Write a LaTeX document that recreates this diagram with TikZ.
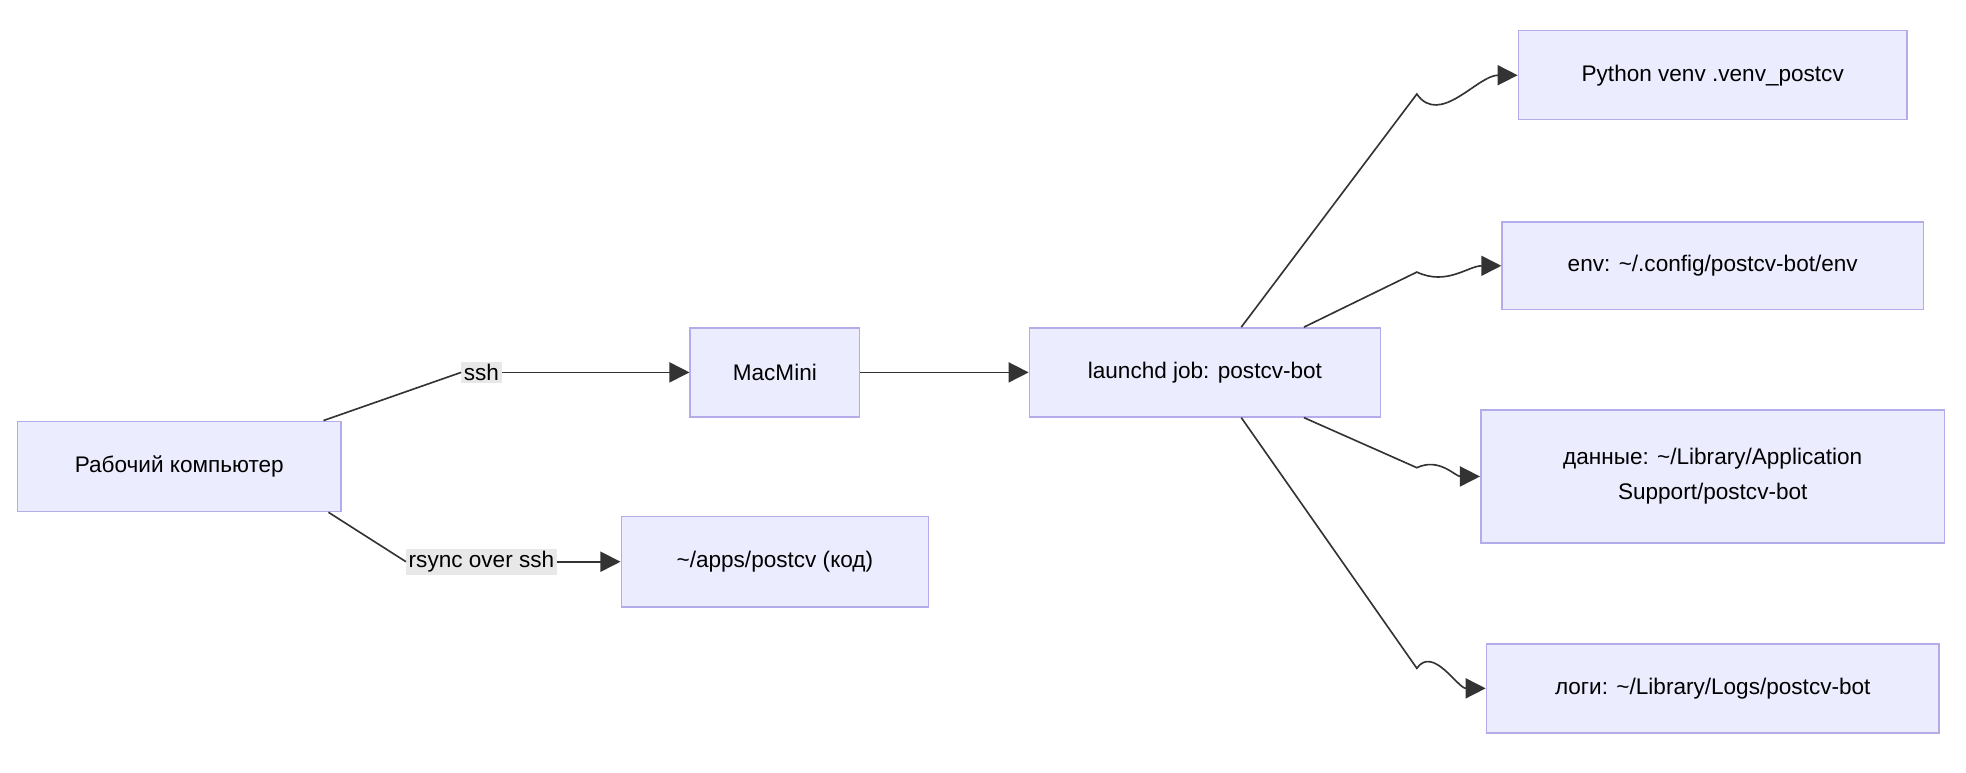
\documentclass[tikz,border=0pt]{standalone}
\usepackage{fontspec}
\setmainfont{Liberation Sans}
\usetikzlibrary{positioning,arrows.meta}
\definecolor{boxfill}{HTML}{ECECFF}
\definecolor{boxline}{HTML}{B3ABEA}
\definecolor{lblfill}{HTML}{E8E8E8}
\begin{document}
\begin{tikzpicture}[x=1pt, y=-1pt,
    box/.style={rectangle, draw=boxline, fill=boxfill, line width=1.2pt, align=center,
        font=\fontsize{18}{28}\selectfont, inner sep=0pt},
    lbl/.style={fill=lblfill, font=\fontsize{18}{22}\selectfont, inner sep=2pt},
    link/.style={-{Triangle[length=16pt,width=16pt]}, draw=black!80, line width=1.3pt}
    ]
        \useasboundingbox (0,0) rectangle (1568,616);
        %Nodes
        \node[box, minimum width=258pt, minimum height=72pt]
            (work)  at (143,372)    {Рабочий компьютер};
        \node[box, minimum width=135pt, minimum height=71pt]
            (mac)   at (618,297)    {MacMini};
        \node[box, minimum width=245pt, minimum height=72pt]
            (apps)  at (618,448)    {\textasciitilde/apps/postcv (код)};
        \node[box, minimum width=280pt, minimum height=71pt]
            (job)   at (961,297)    {launchd job: postcv-bot};
        \node[box, minimum width=310pt, minimum height=71pt]
            (venv)  at (1366,60)    {Python venv .venv\_postcv};
        \node[box, minimum width=336pt, minimum height=70pt]
            (env)   at (1366,212)   {env: \textasciitilde/.config/postcv-bot/env};
        \node[box, minimum width=370pt, minimum height=106pt]
            (data)  at (1366,380)   {данные: \textasciitilde/Library/Application\\Support/postcv-bot};
        \node[box, minimum width=361pt, minimum height=71pt]
            (logs)  at (1366,549)   {логи: \textasciitilde/Library/Logs/postcv-bot};

        %Labels
        \node[lbl] (ssh)   at (384,297)  {ssh};
        \node[lbl] (rsync) at (384,448)  {rsync over ssh};

        %Lines
        \draw[draw=black!80, line width=1.3pt]
            (work.north -| 258,0) -- (ssh.west);
        \draw[link]
            (ssh.east) to[out=0, in=180] (mac.west);
        \draw[draw=black!80, line width=1.3pt]
            (work.south -| 262,0) -- (rsync.west);
        \draw[link]
            (rsync.east) -- (apps.west);
        \draw[link]
            (mac.east) -- (job.west);
        \draw[link]
            (job.north -| 990,0) -- (1130,75) to[out=-55, in=180] (venv.west);
        \draw[link]
            (job.north -| 1040,0) -- (1130,217) to[out=-25, in=180] (env.west);
        \draw[link]
            (job.south -| 1040,0) -- (1130,373) to[out=25, in=180] (data.west);
        \draw[link]
            (job.south -| 990,0) -- (1130,533) to[out=55, in=180] (logs.west);
    \end{tikzpicture}
\end{document}
